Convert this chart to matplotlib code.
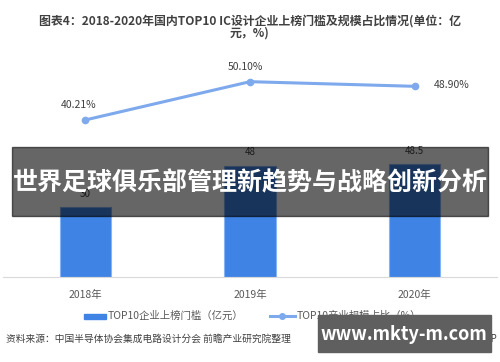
import matplotlib
matplotlib.use('Agg')
import matplotlib.pyplot as plt
from matplotlib.patches import Rectangle
from matplotlib.lines import Line2D

plt.rcParams['font.family'] = ['Noto Sans CJK SC', 'DejaVu Sans']

# data
years = ['2018年', '2019年', '2020年']
threshold = [30, 48, 48.5]          # 亿元
share = [40.21, 50.10, 48.90]       # %
share_labels = ['40.21%', '50.10%', '48.90%']

W, H = 500, 362
fig = plt.figure(figsize=(W / 100, H / 100), dpi=100)

def fx(px):
    return px / W

def fy(py):
    return 1 - py / H

# main axes: baseline at y=277px, top at 60px
ax = fig.add_axes([fx(3), fy(277), fx(494), (277 - 60) / H])
x = list(range(len(years)))
bars = ax.bar(x, threshold, width=0.31, color='#3F84E5',
              edgecolor='#86B3F3', linewidth=0.8, zorder=2)
for xi, v in zip(x, threshold):
    ax.text(xi, v + 3.5, f'{v:g}', ha='center', va='bottom',
            fontsize=7, color='#404040')
ax.set_xlim(-0.5, 2.5)
ax.set_ylim(0, 93.5)
ax.set_xticks(x)
ax.set_xticklabels(years, fontsize=7.5, color='#595959')
ax.tick_params(axis='x', length=0, pad=9)
ax.set_yticks([])
for s in ['top', 'right', 'left']:
    ax.spines[s].set_visible(False)
ax.spines['bottom'].set_color('#D9D9D9')
ax.spines['bottom'].set_linewidth(0.8)

# secondary axis for the share line
ax2 = ax.twinx()
ax2.plot(x, share, color='#7EA9EC', linewidth=2.2, marker='o',
         markersize=4.5, zorder=3)
ax2.set_ylim(-0.36, 55.7)
ax2.set_yticks([])
for s in ['top', 'right', 'left', 'bottom']:
    ax2.spines[s].set_visible(False)
offsets = [(-5, 7), (-3, 7), (27, -3)]
for xi, v, lab, off in zip(x, share, share_labels, offsets):
    ax2.annotate(lab, (xi, v), xytext=off, textcoords='offset points',
                 ha='center', va='bottom', fontsize=7.5, color='#404040')

# title
fig.text(0.5, fy(21), '图表4：2018-2020年国内TOP10 IC设计企业上榜门槛及规模占比情况(单位：亿',
         ha='center', va='center', fontsize=8.6, fontweight='bold', color='#404040')
fig.text(0.5, fy(33), '元，%)', ha='center', va='center', fontsize=8.6,
         fontweight='bold', color='#404040')

# legend
fig.patches.append(Rectangle((fx(84), fy(319)), fx(22), 5 / H,
                             transform=fig.transFigure, color='#3F84E5'))
fig.text(fx(108), fy(316), 'TOP10企业上榜门槛（亿元）', ha='left', va='center',
         fontsize=7.5, color='#595959')
fig.lines.append(Line2D([fx(270), fx(295)], [fy(316), fy(316)],
                        transform=fig.transFigure, color='#7EA9EC', linewidth=2.2))
fig.lines.append(Line2D([fx(282)], [fy(316)], transform=fig.transFigure,
                        marker='o', markersize=4, color='#7EA9EC'))
fig.text(fx(297), fy(316), 'TOP10产业规模占比（%）', ha='left', va='center',
         fontsize=7.5, color='#595959')

# source
fig.text(fx(6), fy(339), '资料来源：中国半导体协会集成电路设计分会 前瞻产业研究院整理',
         ha='left', va='center', fontsize=7, color='#404040')
fig.text(fx(497), fy(339), '@前瞻经济学人APP', ha='right', va='center',
         fontsize=7, color='#404040')

# banner overlay
fig.patches.append(Rectangle((fx(12), fy(216)), fx(476), 69 / H,
                             transform=fig.transFigure, color='black',
                             alpha=0.6, zorder=10))
fig.text(0.5, fy(183), '世界足球俱乐部管理新趋势与战略创新分析', ha='center',
         va='center', fontsize=18, fontweight='bold', color='white', zorder=11)

# site watermark box
fig.patches.append(Rectangle((fx(318), fy(352)), fx(173), 37 / H,
                             transform=fig.transFigure, color='#5F5F5F', zorder=10))
fig.text(fx(404), fy(335), 'www.mkty-m.com', ha='center', va='center',
         fontsize=13, fontweight='bold', color='white', zorder=11)

fig.savefig('out.png', dpi=100)
